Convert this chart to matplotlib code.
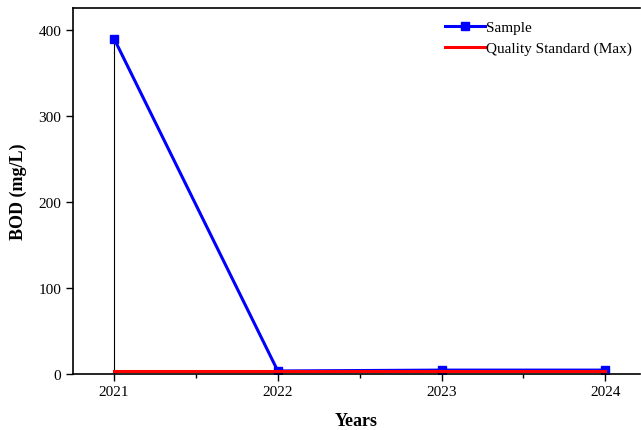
import matplotlib
matplotlib.use("Agg")
import matplotlib.pyplot as plt

plt.rcParams['font.family'] = ['Liberation Serif', 'DejaVu Serif']

anios = [2021, 2022, 2023, 2024]
muestra = [390, 3, 4, 4]
estandar = [3, 3, 3, 3]

fig = plt.figure(figsize=(6.41, 4.31), dpi=100)
ax = fig.add_axes([0.114, 0.131, 0.884, 0.849])

ax.vlines(anios[0], 0, muestra[0], color='black', linewidth=0.8)
ax.plot(anios, muestra, color='#0000ff', linewidth=2.2, marker='s', markersize=6, label='Sample')
ax.plot(anios, estandar, color='#ff0000', linewidth=2.2, label='Quality Standard (Max)')

ax.set_xlim(2020.75, 2024.21)
ax.set_ylim(0, 426)
ax.set_xticks(anios)
ax.set_xticks([2021.5, 2022.5, 2023.5], minor=True)
ax.set_yticks([0, 100, 200, 300, 400])
ax.tick_params(axis='both', which='major', direction='out', length=5, width=1, labelsize=11)
ax.tick_params(axis='x', which='minor', direction='out', length=3, width=1)
ax.spines['right'].set_visible(False)
for s in ['left', 'top', 'bottom']:
    ax.spines[s].set_linewidth(1.2)

ax.set_xlabel('Years', fontsize=13, fontweight='bold', labelpad=10)
ax.set_ylabel('BOD (mg/L)', fontsize=13, fontweight='bold', labelpad=8)
ax.legend(loc='upper right', bbox_to_anchor=(1.0, 0.985), frameon=False, fontsize=11,
          handlelength=2.6, handletextpad=0.1, borderaxespad=0.1, labelspacing=0.45)

fig.savefig('out.png', dpi=100)
